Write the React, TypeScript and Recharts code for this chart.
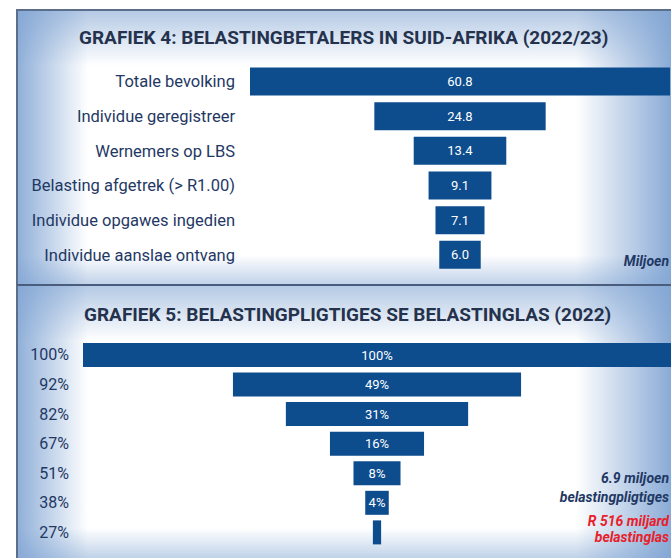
import React from "react";
import { Bar, BarChart, LabelList, XAxis, YAxis } from "recharts";

// Grafiek 4 - belastingbetalers (miljoene)
const payerCategories = [
  "Totale bevolking",
  "Individue geregistreer",
  "Wernemers op LBS",
  "Belasting afgetrek (> R1.00)",
  "Individue opgawes ingedien",
  "Individue aanslae ontvang",
];
const payerValues = [60.8, 24.8, 13.4, 9.1, 7.1, 6.0];
const payerLabels = ["60.8", "24.8", "13.4", "9.1", "7.1", "6.0"];

// Grafiek 5 - belastinglas
const burdenCategories = ["100%", "92%", "82%", "67%", "51%", "38%", "27%"];
const burdenValues = [100, 49, 31, 16, 8, 4, 1.4];
const burdenLabels = ["100%", "49%", "31%", "16%", "8%", "4%", ""];

const payerMax = 60.8;
const burdenMax = 100;

// funnel: invisible offset bar + centred visible bar
const payerData = payerCategories.map((name, i) => ({
  name,
  pad: (payerMax - payerValues[i]) / 2,
  value: payerValues[i],
  label: payerLabels[i],
}));

const burdenData = burdenCategories.map((name, i) => ({
  name,
  pad: (burdenMax - burdenValues[i]) / 2,
  value: burdenValues[i],
  label: burdenLabels[i],
}));

const BAR = "#0d4d8e";
const NAVY = "#1f3864";
const FONT = "Roboto, 'Open Sans', sans-serif";

const panelBg = [
  "linear-gradient(to right, rgba(125,162,210,0.85) 0px, rgba(125,162,210,0) 70px)",
  "linear-gradient(to left, rgba(125,162,210,0.9) 0px, rgba(125,162,210,0) 95px)",
  "linear-gradient(to bottom, rgba(150,180,218,0.7) 0px, rgba(150,180,218,0) 55px)",
  "linear-gradient(to top, rgba(150,180,218,0.6) 0px, rgba(150,180,218,0) 30px)",
  "#ffffff",
].join(", ");

const titleStyle: React.CSSProperties = {
  position: "absolute",
  fontFamily: FONT,
  fontWeight: 700,
  fontSize: 19,
  color: "#25324d",
  whiteSpace: "nowrap",
};

const noteStyle: React.CSSProperties = {
  position: "absolute",
  right: 2,
  fontFamily: FONT,
  fontWeight: 700,
  fontStyle: "italic",
  fontSize: 14,
  whiteSpace: "nowrap",
  textAlign: "right",
};

export default function App() {
  return (
    <div
      style={{
        position: "absolute",
        left: 0,
        top: 0,
        width: 671,
        height: 558,
        background: "#ffffff",
        overflow: "hidden",
      }}
    >
      {/* panel backgrounds */}
      <div
        style={{
          position: "absolute",
          left: 16,
          top: 9,
          width: 655,
          height: 276,
          background: panelBg,
          borderTop: "2px solid #5b6e8c",
          borderLeft: "2px solid #5b6e8c",
          boxSizing: "border-box",
        }}
      />
      <div
        style={{
          position: "absolute",
          left: 16,
          top: 284,
          width: 655,
          height: 274,
          background: panelBg,
          borderTop: "2px solid #4a5d7c",
          borderLeft: "2px solid #5b6e8c",
          boxSizing: "border-box",
        }}
      />

      <div style={{ ...titleStyle, left: 79, top: 26 }}>
        GRAFIEK 4: BELASTINGBETALERS IN SUID-AFRIKA (2022/23)
      </div>
      <div style={{ ...titleStyle, left: 84, top: 303 }}>
        GRAFIEK 5: BELASTINGPLIGTIGES SE BELASTINGLAS (2022)
      </div>

      <div style={{ position: "absolute", left: 0, top: 0 }}>
        <BarChart
          width={671}
          height={285}
          data={payerData}
          layout="vertical"
          margin={{ top: 64, right: 1, bottom: 13, left: 0 }}
        >
          <XAxis type="number" domain={[0, payerMax]} hide />
          <YAxis
            type="category"
            dataKey="name"
            width={250}
            tickLine={false}
            axisLine={false}
            tickSize={0}
            tickMargin={15}
            interval={0}
            tick={{ fill: NAVY, fontSize: 16.5, fontFamily: FONT }}
          />
          <Bar dataKey="pad" stackId="a" fill="transparent" isAnimationActive={false} />
          <Bar dataKey="value" stackId="a" fill={BAR} barSize={28} isAnimationActive={false}>
            <LabelList
              dataKey="label"
              position="center"
              fill="#ffffff"
              fontSize={13}
              fontFamily={FONT}
            />
          </Bar>
        </BarChart>
      </div>

      <div style={{ position: "absolute", left: 0, top: 285 }}>
        <BarChart
          width={671}
          height={273}
          data={burdenData}
          layout="vertical"
          margin={{ top: 55, right: 0, bottom: 11, left: 0 }}
        >
          <XAxis type="number" domain={[0, burdenMax]} hide />
          <YAxis
            type="category"
            dataKey="name"
            width={83}
            tickLine={false}
            axisLine={false}
            tickSize={0}
            tickMargin={14}
            interval={0}
            tick={{ fill: NAVY, fontSize: 16, fontFamily: FONT }}
          />
          <Bar dataKey="pad" stackId="b" fill="transparent" isAnimationActive={false} />
          <Bar dataKey="value" stackId="b" fill={BAR} barSize={24} isAnimationActive={false}>
            <LabelList
              dataKey="label"
              position="center"
              fill="#ffffff"
              fontSize={13}
              fontFamily={FONT}
            />
          </Bar>
        </BarChart>
      </div>

      <div style={{ ...noteStyle, color: NAVY, top: 253 }}>Miljoen</div>
      <div style={{ ...noteStyle, color: NAVY, top: 470 }}>6.9 miljoen</div>
      <div style={{ ...noteStyle, color: NAVY, top: 489 }}>belastingpligtiges</div>
      <div style={{ ...noteStyle, color: "#e8202a", top: 513 }}>R 516 miljard</div>
      <div style={{ ...noteStyle, color: "#e8202a", top: 529 }}>belastinglas</div>
    </div>
  );
}
